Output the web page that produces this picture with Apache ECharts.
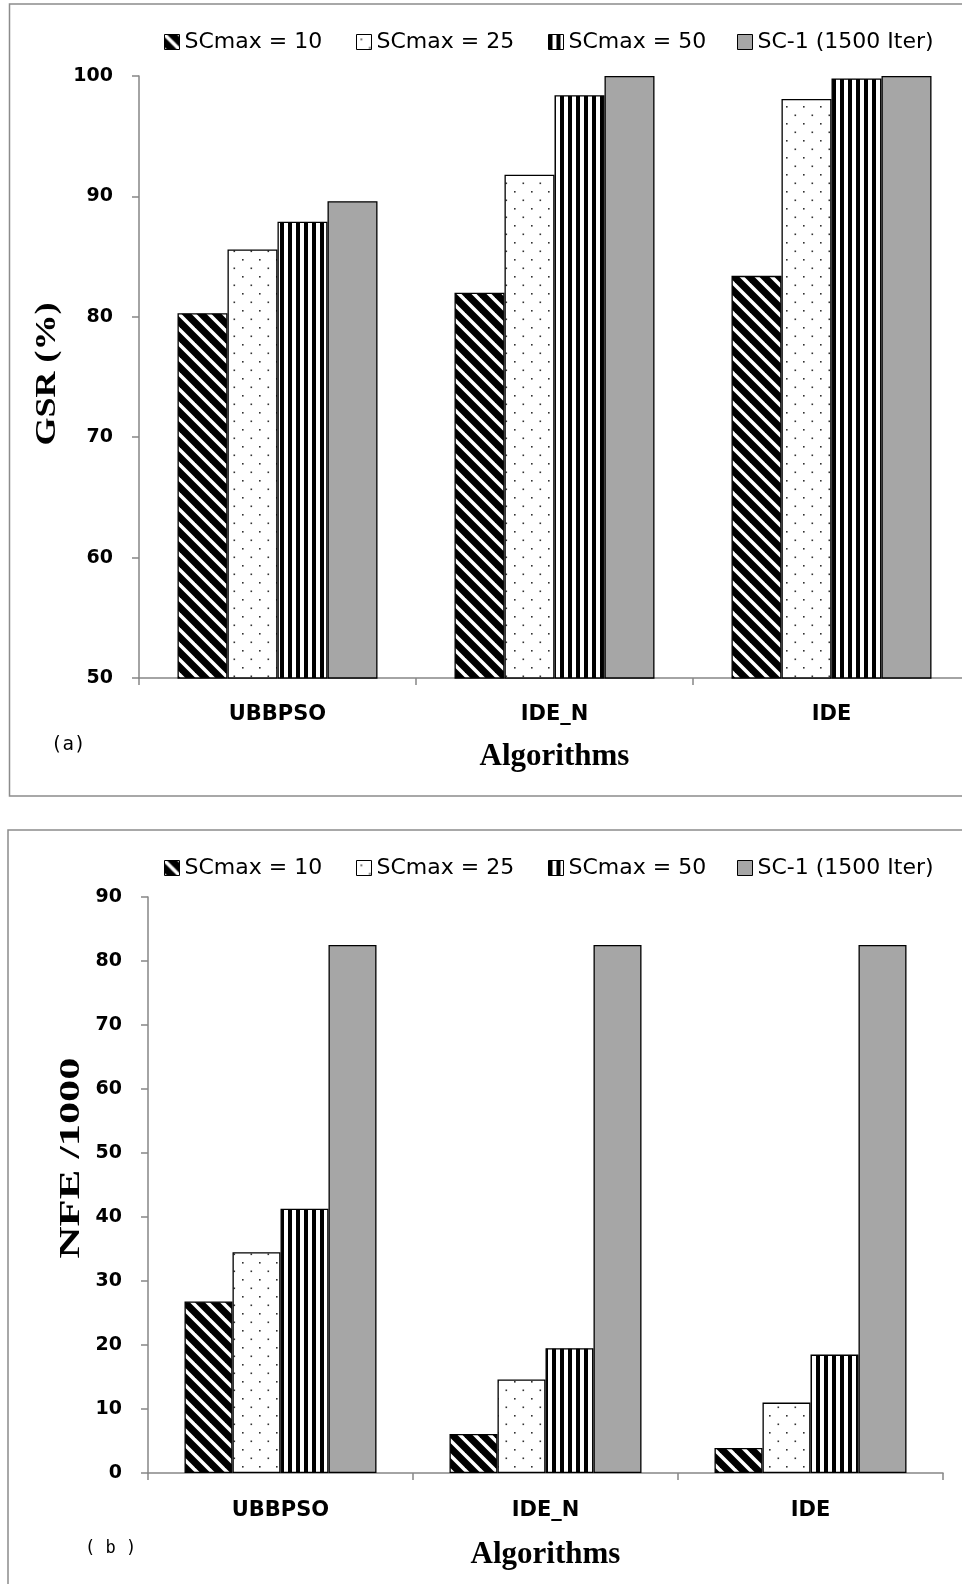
<!DOCTYPE html>
<html>
<head>
<meta charset="utf-8">
<script src="https://cdn.jsdelivr.net/npm/echarts@6/dist/echarts.min.js"></script>
<style>
  html, body { margin: 0; padding: 0; background: #fff; overflow: hidden; }
  #chart { width: 1000px; height: 1584px; }
</style>
</head>
<body>
<div id="chart"></div>
<script>
const categories = ['UBBPSO', 'IDE_N', 'IDE'];
const seriesNames = ['SCmax = 10', 'SCmax = 25', 'SCmax = 50', 'SC-1 (1500 Iter)'];

// (a) GSR (%)
const gsr10 = [80.3, 82.0, 83.4];
const gsr25 = [85.6, 91.8, 98.1];
const gsr50 = [87.9, 98.4, 99.8];
const gsrSc1 = [89.6, 100, 100];

// (b) NFE /1000
const nfe10 = [26.8, 6.1, 3.9];
const nfe25 = [34.5, 14.6, 11.0];
const nfe50 = [41.3, 19.5, 18.5];
const nfeSc1 = [82.5, 82.5, 82.5];

const gsrAxis = { min: 50, max: 100, interval: 10 };
const nfeAxis = { min: 0, max: 90, interval: 10 };

// fill patterns
function tile(w, h, draw) {
  const c = document.createElement('canvas');
  c.width = w;
  c.height = h;
  draw(c.getContext('2d'));
  return { image: c, repeat: 'repeat' };
}
const diag = tile(15, 15, ctx => {
  ctx.fillStyle = '#000';
  ctx.fillRect(0, 0, 15, 15);
  ctx.strokeStyle = '#fff';
  ctx.lineWidth = 3.5;
  [-15, 0, 15].forEach(o => {
    ctx.beginPath();
    ctx.moveTo(o - 2, -2);
    ctx.lineTo(o + 17, 17);
    ctx.stroke();
  });
});
const dots = tile(17, 17, ctx => {
  ctx.fillStyle = '#fff';
  ctx.fillRect(0, 0, 17, 17);
  ctx.fillStyle = '#333';
  ctx.fillRect(4, 4, 1.6, 1.6);
  ctx.fillRect(12.5, 12.5, 1.6, 1.6);
});
const vert = tile(8, 8, ctx => {
  ctx.fillStyle = '#fff';
  ctx.fillRect(0, 0, 8, 8);
  ctx.fillStyle = '#000';
  ctx.fillRect(0, 0, 4, 8);
});
const fills = [diag, dots, vert, '#a6a6a6'];

const tickFont = { fontFamily: 'DejaVu Sans', fontWeight: 'bold', fontSize: 19, color: '#000' };
const catFont = { fontFamily: 'DejaVu Sans', fontWeight: 'bold', fontSize: 21, color: '#000' };
const titleFont = { fontFamily: 'Liberation Serif', fontWeight: 'bold', fontSize: 31, color: '#000' };
const axisGray = { lineStyle: { color: '#868686', width: 1.5 } };

function xAxis(gridIndex, gap, margin) {
  return {
    type: 'category', gridIndex, data: categories,
    name: 'Algorithms', nameLocation: 'middle', nameGap: gap, nameTextStyle: titleFont,
    axisLine: axisGray,
    axisTick: { show: true, length: 7, alignWithLabel: false, lineStyle: { color: '#868686', width: 1.5 } },
    axisLabel: Object.assign({ margin }, catFont)
  };
}
function yAxis(gridIndex, rng) {
  return Object.assign({
    type: 'value', gridIndex,
    axisLine: { show: true, lineStyle: { color: '#868686', width: 1.5 } },
    axisTick: { show: true, length: 7, lineStyle: { color: '#868686', width: 1.5 } },
    axisLabel: Object.assign({ margin: 26 }, tickFont),
    splitLine: { show: false }
  }, rng);
}
// rotated y titles, stretched along their length like the original
function yTitle(text, x, y, stretch) {
  return {
    type: 'text', x, y, rotation: Math.PI / 2, scaleX: stretch,
    style: {
      text, fill: '#000', align: 'center', verticalAlign: 'middle',
      font: 'bold 30px "Liberation Serif"'
    }
  };
}

function bars(idx, values, width, name) {
  return {
    type: 'bar', name, xAxisIndex: idx, yAxisIndex: idx,
    data: values, barWidth: width, barGap: '0%',
    itemStyle: { color: fills[seriesNames.indexOf(name)], borderColor: '#000', borderWidth: 1.3 },
    emphasis: { disabled: true }
  };
}

function legends(top) {
  const lefts = [164, 356, 548, 737];
  return seriesNames.map((n, i) => ({
    data: [n], left: lefts[i], top, padding: 0,
    icon: 'rect', itemWidth: 15, itemHeight: 15,
    itemStyle: { borderColor: '#000', borderWidth: 1 },
    textStyle: { fontFamily: 'DejaVu Sans', fontSize: 22, color: '#000' },
    selectedMode: false
  }));
}

const chart = echarts.init(document.getElementById('chart'), null, { renderer: 'canvas' });
chart.setOption({
  animation: false,
  backgroundColor: '#fff',
  graphic: [
    { type: 'rect', shape: { x: 9.5, y: 4, width: 1000, height: 792 }, style: { fill: 'none', stroke: '#8c8c8c', lineWidth: 1.5 }, z: -1 },
    { type: 'rect', shape: { x: 8, y: 830, width: 1000, height: 800 }, style: { fill: 'none', stroke: '#8c8c8c', lineWidth: 1.5 }, z: -1 },
    { type: 'text', left: 51, top: 736, style: { text: '(a)', font: '19px "DejaVu Sans Mono"', fill: '#000' } },
    { type: 'text', left: 85, top: 1540, style: { text: '( b )', font: '17px "DejaVu Sans Mono"', fill: '#000' } },
    yTitle('GSR (%)', 47.5, 374, 1.2),
    yTitle('NFE /1000', 71, 1158, 1.48)
  ],
  legend: legends(31).concat(legends(857)),
  grid: [
    { left: 139, top: 76, width: 831, height: 602 },
    { left: 148, top: 897, width: 795, height: 576 }
  ],
  xAxis: [xAxis(0, 63, 26), xAxis(1, 66, 27)],
  yAxis: [yAxis(0, gsrAxis), yAxis(1, nfeAxis)],
  series: [
    bars(0, gsr10, 50, seriesNames[0]),
    bars(0, gsr25, 50, seriesNames[1]),
    bars(0, gsr50, 50, seriesNames[2]),
    bars(0, gsrSc1, 50, seriesNames[3]),
    bars(1, nfe10, 48, seriesNames[0]),
    bars(1, nfe25, 48, seriesNames[1]),
    bars(1, nfe50, 48, seriesNames[2]),
    bars(1, nfeSc1, 48, seriesNames[3])
  ]
});
</script>
</body>
</html>
